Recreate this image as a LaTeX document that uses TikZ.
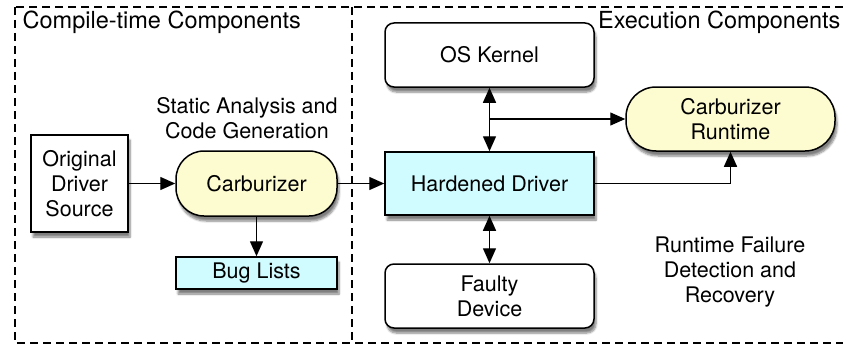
\documentclass[tikz,border=0pt]{standalone}
\usepackage{fontspec}
\setmainfont{TeX Gyre Heros}
\usetikzlibrary{
  arrows.meta,
  shadows.blur
}

\definecolor{carbyellow}{RGB}{253,251,208}
\definecolor{hardcyan}{RGB}{208,252,255}

\begin{document}
\begin{tikzpicture}[
  x=1pt, y=-1pt,
  font=\fontsize{21.5}{25}\selectfont,
  box/.style={draw, line width=1.5pt, fill=white, align=center,
    inner sep=0pt,
    blur shadow={shadow xshift=2pt, shadow yshift=-5pt,
      shadow blur steps=6, shadow opacity=50}},
  flow/.style={line width=1.4pt, -{Triangle[length=15pt,width=13pt]}},
  both/.style={line width=1.4pt,
    {Triangle[length=15pt,width=13pt]}-{Triangle[length=15pt,width=13pt]}},
  region/.style={line width=1.3pt, dash pattern=on 8pt off 5pt},
  heading/.style={font=\fontsize{23.5}{27}\selectfont},
]
\clip (0,0) rectangle (843,345);

% the two halves
\draw[region] (15,7) rectangle (860,343);
\draw[region] (352,7) -- (352,343);
\node[heading, anchor=west] (ctitle) at (19,22) {Compile-time Components};
\node[heading, anchor=east] (etitle) at (844,22) {Execution Components};

% compile time
\node[box, minimum width=97, minimum height=97] (src) at (79.5,183.5)
  {Original\\Driver\\Source};
\node[box, fill=carbyellow, rounded corners=28pt,
  minimum width=161, minimum height=65] (carb) at (256.5,183.5) {Carburizer};
\node[box, fill=hardcyan, minimum width=161, minimum height=32]
  (bugs) at (256.5,273) {Bug Lists};
\node[align=center] (static) at (247,118.5)
  {Static Analysis and\\Code Generation};

% execution
\node[box, fill=hardcyan, minimum width=209, minimum height=63]
  (hard) at (489.5,183.5) {Hardened Driver};
\node[box, rounded corners=9pt, minimum width=209, minimum height=64]
  (kern) at (489.5,55) {OS Kernel};
\node[box, rounded corners=9pt, minimum width=209, minimum height=64]
  (dev) at (489.5,296) {Faulty\\Device};
\node[box, fill=carbyellow, rounded corners=30pt,
  minimum width=209, minimum height=64] (rt) at (730.5,119)
  {Carburizer\\Runtime};
\node[align=center] (recover) at (730,272)
  {Runtime Failure\\Detection and\\Recovery};

% connectors
\coordinate (split) at (kern.south |- rt.west);
\draw[flow] (src) -- (carb);
\draw[flow] (carb) -- (hard);
\draw[flow] (carb) -- (bugs);
\draw[both] (kern) -- (hard);
\draw[both] (hard) -- (dev);
\draw[flow] (split) -- (rt);
\draw[flow] (hard) -| (rt);
\end{tikzpicture}
\end{document}
